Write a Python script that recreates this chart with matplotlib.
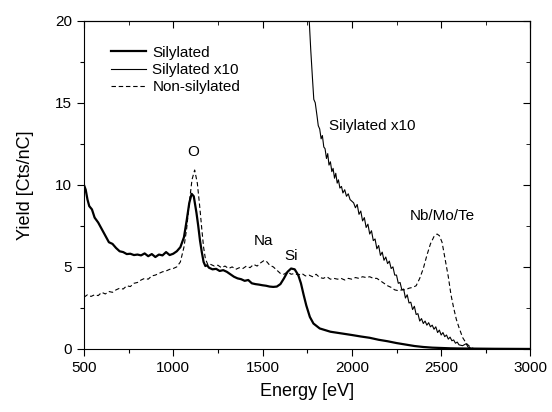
import numpy as np
import matplotlib
matplotlib.use("Agg")
import matplotlib.pyplot as plt
from matplotlib.ticker import MultipleLocator

plt.rcParams['font.family'] = ['Liberation Sans', 'DejaVu Sans']

# Silylated sample (thick line)
sil_energy = [500, 510, 520, 530, 545, 560, 580, 600, 620, 640, 660, 680, 700, 720, 740,
              760, 780, 800, 820, 840, 860, 880, 900, 920, 940, 960, 980, 1000, 1020, 1040,
              1060, 1075, 1090, 1103, 1115, 1130, 1140, 1150, 1160, 1170, 1180, 1190, 1200,
              1220, 1240, 1260, 1280, 1300, 1320, 1340, 1360, 1380, 1400, 1420, 1440, 1460,
              1480, 1500, 1520, 1540, 1560, 1580, 1600, 1620, 1640, 1660, 1680, 1700, 1715,
              1730, 1745, 1765, 1785, 1820, 1880, 1940, 2000, 2050, 2100, 2150, 2200, 2250,
              2300, 2350, 2400, 2450, 2500, 2550, 2600, 2700, 2800, 3000]
sil_yield = [10.0, 9.7, 9.1, 8.7, 8.5, 8.0, 7.7, 7.3, 6.9, 6.5, 6.4, 6.15, 5.95, 5.9, 5.78,
             5.8, 5.72, 5.75, 5.7, 5.82, 5.65, 5.78, 5.6, 5.75, 5.7, 5.9, 5.72, 5.8, 5.95, 6.2,
             6.8, 7.8, 8.9, 9.45, 9.3, 8.3, 7.5, 6.6, 5.9, 5.3, 5.05, 5.1, 4.95,
             4.85, 4.88, 4.75, 4.8, 4.7, 4.55, 4.4, 4.3, 4.25, 4.15, 4.2, 4.0, 3.95,
             3.92, 3.88, 3.85, 3.8, 3.78, 3.8, 3.95, 4.3, 4.7, 4.9, 4.85, 4.5, 4.0,
             3.3, 2.65, 1.95, 1.55, 1.25, 1.05, 0.95, 0.85, 0.76, 0.68, 0.56, 0.47, 0.36,
             0.27, 0.18, 0.12, 0.08, 0.06, 0.04, 0.03, 0.02, 0.01, 0.0]

# Silylated x10 (thin line)
x10_energy = [1750, 1760, 1770, 1780, 1787, 1795, 1805, 1812, 1820, 1828, 1835, 1843, 1850,
              1858, 1865, 1872, 1880, 1888, 1895, 1903, 1910, 1918, 1925, 1933, 1942, 1950,
              1960, 1970, 1980, 1990, 2000, 2010, 2020, 2030, 2040, 2050, 2060, 2070, 2080,
              2090, 2100, 2110, 2120, 2130, 2140, 2150, 2160, 2170, 2180, 2190, 2200, 2210,
              2220, 2230, 2240, 2250, 2260, 2270, 2280, 2290, 2300, 2310, 2320, 2330, 2340,
              2350, 2360, 2370, 2380, 2390, 2400, 2410, 2420, 2430, 2440, 2450, 2460, 2470,
              2480, 2490, 2500, 2510, 2520, 2530, 2540, 2550, 2560, 2570, 2580, 2590, 2600,
              2620, 2640, 2650, 2670, 2700, 3000]
x10_yield = [24.0, 20.3, 18.2, 16.4, 15.2, 15.0, 14.2, 13.6, 13.4, 12.8, 13.0, 12.3, 12.2,
             11.6, 11.9, 11.2, 11.4, 10.8, 11.0, 10.4, 10.7, 10.1, 10.3, 9.8, 9.9, 9.5,
             9.7, 9.3, 9.45, 9.1, 9.0, 8.9, 8.6, 8.8, 8.2, 8.4, 7.8, 8.0, 7.4,
             7.6, 7.0, 7.2, 6.6, 6.7, 6.1, 6.3, 5.7, 5.9, 5.4, 5.6, 5.2, 5.35,
             4.9, 5.0, 4.5, 4.5, 4.0, 4.05, 3.6, 3.65, 3.1, 3.3, 2.8, 2.85, 2.4,
             2.6, 2.1, 2.15, 1.7, 1.85, 1.55, 1.7, 1.45, 1.6, 1.35, 1.45, 1.2, 1.35,
             1.0, 1.15, 0.85, 1.0, 0.75, 0.85, 0.6, 0.72, 0.5, 0.55, 0.35, 0.42, 0.25,
             0.2, 0.32, 0.12, 0.03, 0.0, 0.0]

# Non-silylated sample (dashed line)
non_energy = [500, 520, 540, 560, 580, 600, 620, 640, 660, 680, 700, 720, 740, 760, 780,
              800, 820, 840, 860, 880, 900, 920, 940, 960, 980, 1000, 1020, 1040, 1060,
              1075, 1090, 1105, 1120, 1135, 1150, 1160, 1170, 1180, 1195, 1210, 1230, 1250,
              1270, 1290, 1310, 1330, 1350, 1370, 1390, 1410, 1430, 1450, 1470, 1490, 1510,
              1525, 1540, 1560, 1580, 1600, 1620, 1640, 1660, 1680, 1700, 1720, 1740, 1760,
              1780, 1800, 1820, 1840, 1860, 1880, 1900, 1920, 1940, 1960, 1980, 2000, 2020,
              2040, 2060, 2080, 2100, 2120, 2140, 2160, 2180, 2200, 2220, 2240, 2260, 2280,
              2300, 2320, 2340, 2360, 2380, 2400, 2420, 2440, 2460, 2477, 2490, 2505, 2520,
              2540, 2555, 2570, 2585, 2600, 2620, 2640, 2660, 2680, 2700, 3000]
non_yield = [3.15, 3.3, 3.2, 3.3, 3.25, 3.45, 3.35, 3.5, 3.45, 3.6, 3.7, 3.65, 3.85, 3.8, 4.0,
             4.05, 4.2, 4.3, 4.25, 4.45, 4.5, 4.6, 4.7, 4.75, 4.85, 4.9, 5.0, 5.3, 6.2,
             7.3, 8.9, 10.3, 10.9, 10.1, 8.5, 7.3, 6.2, 5.5, 5.1, 5.15, 5.05, 5.1,
             4.95, 5.05, 4.9, 5.0, 4.85, 4.95, 4.9, 5.05, 4.95, 5.15, 5.05, 5.25, 5.4,
             5.3, 5.1, 5.0, 4.8, 4.6, 4.55, 4.7, 4.55, 4.6, 4.5, 4.6, 4.45, 4.5,
             4.4, 4.55, 4.35, 4.3, 4.4, 4.25, 4.3, 4.25, 4.3, 4.2, 4.3, 4.25, 4.35,
             4.3, 4.4, 4.35, 4.4, 4.3, 4.3, 4.15, 4.0, 3.85, 3.75, 3.6, 3.55, 3.6,
             3.6, 3.7, 3.75, 3.85, 4.3, 4.9, 5.7, 6.4, 6.85, 7.0, 6.9, 6.5, 5.6,
             4.4, 3.3, 2.5, 1.8, 1.3, 0.7, 0.35, 0.15, 0.03, 0.0, 0.0]

# peak labels: (text, energy, yield)
peak_labels = [("O", 1112, 12.0), ("Na", 1503, 6.55), ("Si", 1662, 5.65),
               ("Silylated x10", 2114, 13.6), ("Nb/Mo/Te", 2508, 8.1)]

fig = plt.figure(figsize=(5.52, 4.12), dpi=100)
ax = fig.add_axes([0.152, 0.153, 0.809, 0.797])

ax.plot(sil_energy, sil_yield, color='black', lw=1.6, label='Silylated')
ax.plot(x10_energy, x10_yield, color='black', lw=0.8, label='Silylated x10')
ax.plot(non_energy, non_yield, color='black', lw=0.8, ls=(0, (4, 2.5)), label='Non-silylated')

for txt, xe, ye in peak_labels:
    ax.text(xe, ye, txt, ha='center', va='center', fontsize=11)

ax.set_xlim(500, 3000)
ax.set_ylim(0, 20)
ax.xaxis.set_major_locator(MultipleLocator(500))
ax.xaxis.set_minor_locator(MultipleLocator(250))
ax.yaxis.set_major_locator(MultipleLocator(5))
ax.yaxis.set_minor_locator(MultipleLocator(2.5))
ax.tick_params(which='both', direction='out', top=False, right=False, labelsize=11)
ax.tick_params(which='major', length=5, width=0.8)
ax.tick_params(which='minor', length=3, width=0.8)

# inward ticks on top and right
sec_x = ax.secondary_xaxis('top')
sec_x.xaxis.set_major_locator(MultipleLocator(500))
sec_x.xaxis.set_minor_locator(MultipleLocator(250))
sec_x.tick_params(which='both', direction='in', labeltop=False)
sec_x.tick_params(which='major', length=5)
sec_x.tick_params(which='minor', length=3)
sec_y = ax.secondary_yaxis('right')
sec_y.yaxis.set_major_locator(MultipleLocator(5))
sec_y.yaxis.set_minor_locator(MultipleLocator(2.5))
sec_y.tick_params(which='both', direction='in', labelright=False)
sec_y.tick_params(which='major', length=5)
sec_y.tick_params(which='minor', length=3)

ax.set_xlabel('Energy [eV]', fontsize=13, labelpad=6)
ax.set_ylabel('Yield [Cts/nC]', fontsize=13, labelpad=15)

ax.legend(loc='upper left', bbox_to_anchor=(0.03, 0.965), frameon=False, fontsize=11,
          handlelength=2.3, handletextpad=0.4, labelspacing=0.2)

fig.savefig('out.png', dpi=100)
